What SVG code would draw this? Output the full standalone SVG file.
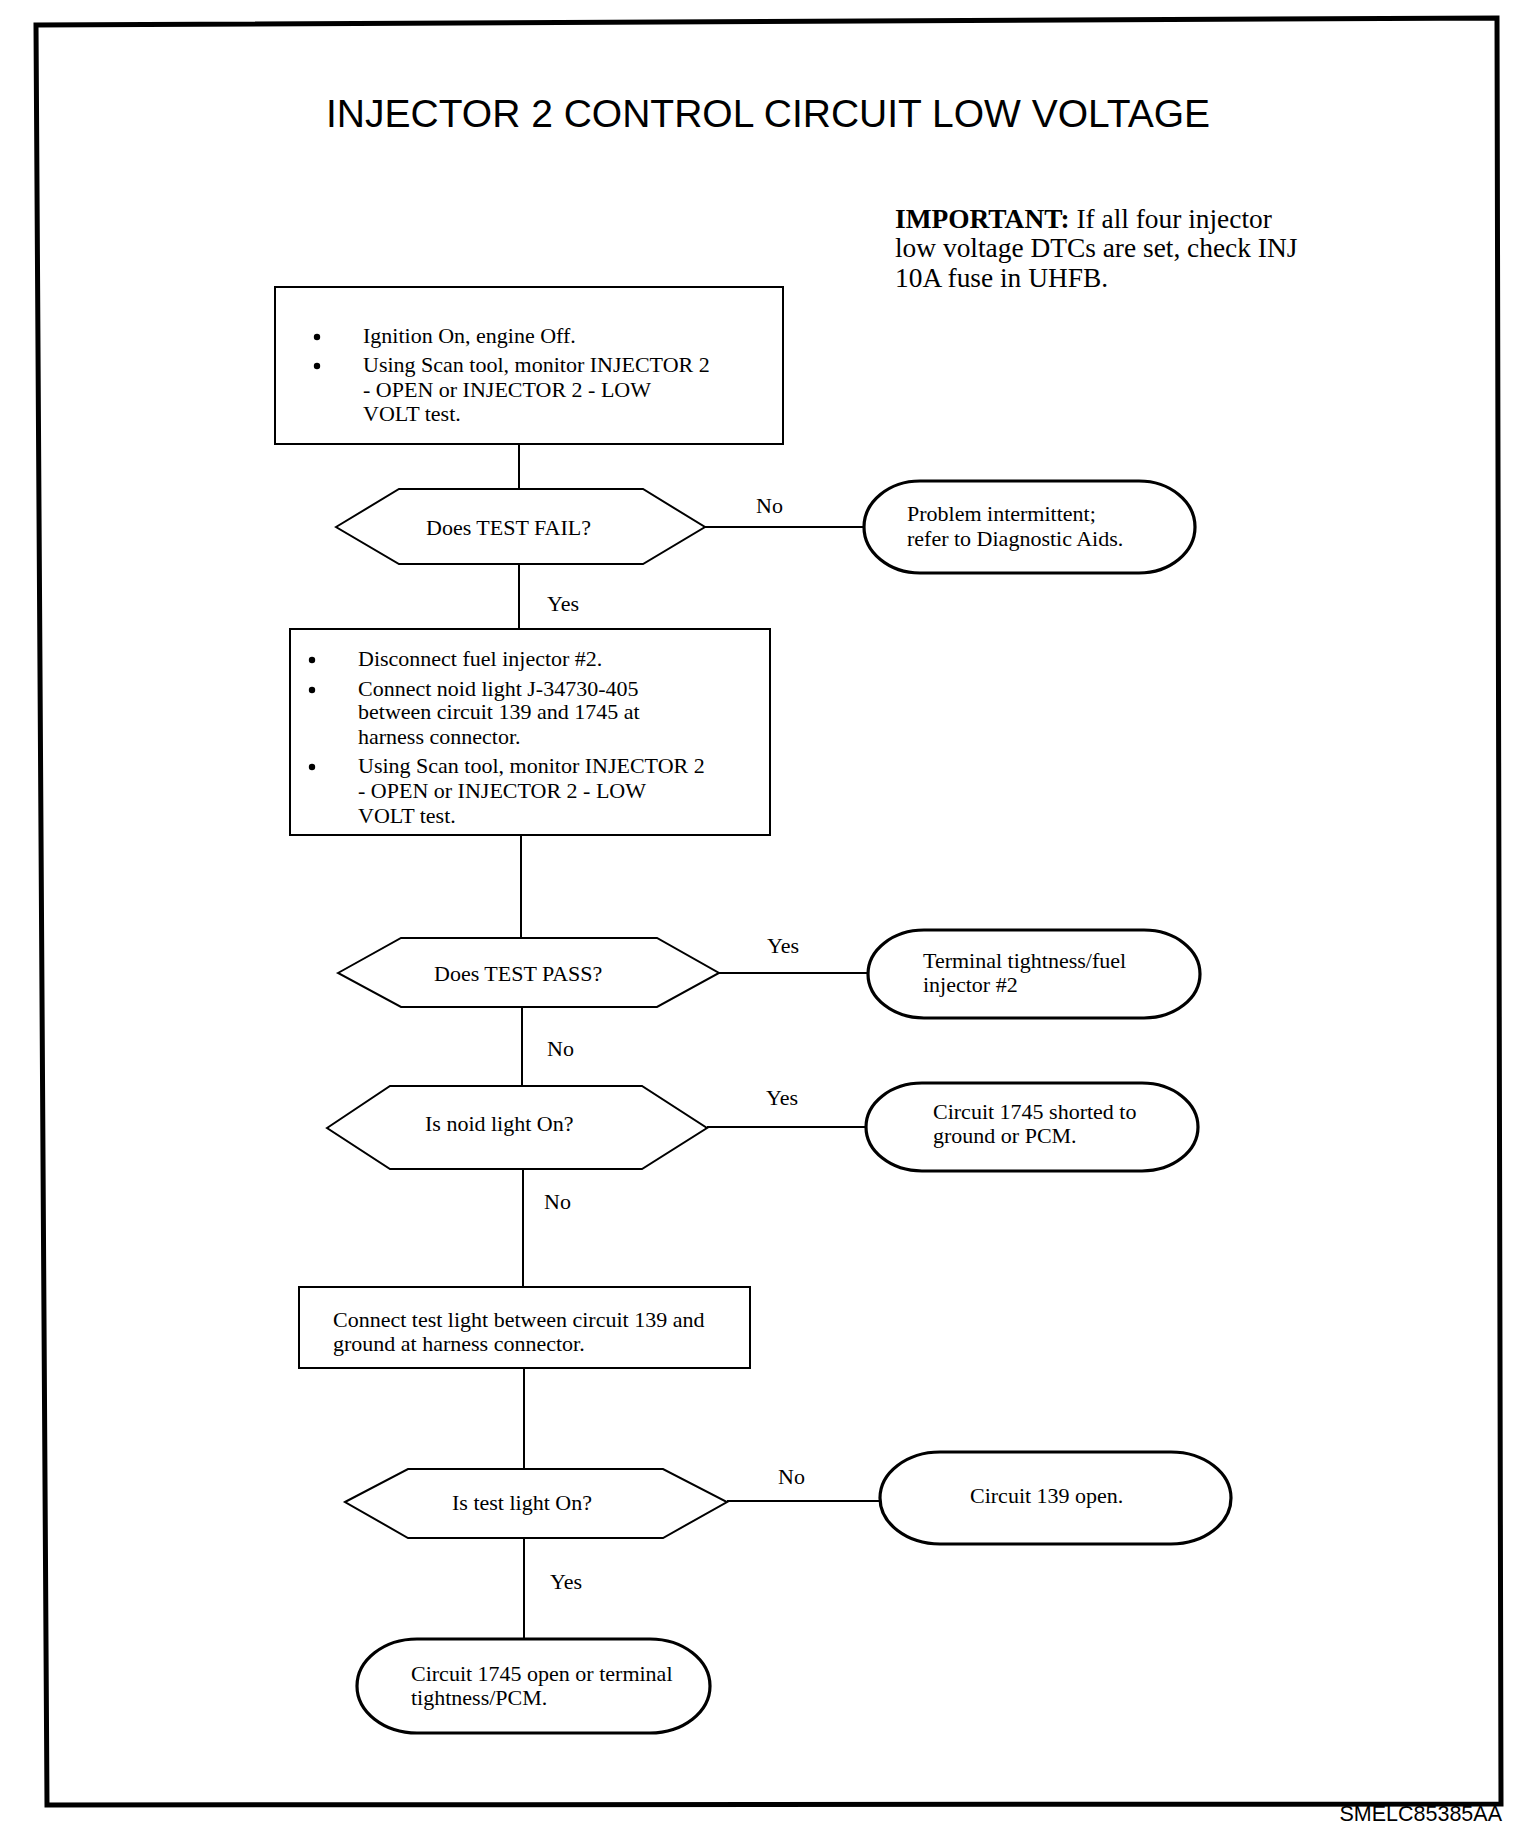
<svg xmlns="http://www.w3.org/2000/svg" width="1536" height="1840" viewBox="0 0 1536 1840">
<style>
.t{font-family:"Liberation Serif","Times New Roman",serif;font-size:22px;fill:#000}
.imp{font-family:"Liberation Serif","Times New Roman",serif;font-size:27.4px;fill:#000}
.box{fill:#fff;stroke:#000;stroke-width:2}
.dec{fill:#fff;stroke:#000;stroke-width:2}
.term{fill:#fff;stroke:#000;stroke-width:3.2}
.c{fill:none;stroke:#000;stroke-width:2}
</style>
<rect width="1536" height="1840" fill="#fff"/>
<polygon points="36,25 1497,18 1501,1804 47,1805" fill="none" stroke="#000" stroke-width="5"/>
<text x="326" y="127" font-family="Liberation Sans, Arial, sans-serif" font-size="39">INJECTOR 2 CONTROL CIRCUIT LOW VOLTAGE</text>
<text x="1502" y="1821" text-anchor="end" font-family="Liberation Sans, Arial, sans-serif" font-size="21.5">SMELC85385AA</text>
<g id="important">
<text class="imp" x="895" y="228"><tspan font-weight="bold">IMPORTANT:</tspan>  If all four injector</text>
<text class="imp" x="895" y="257">low voltage DTCs are set, check INJ</text>
<text class="imp" x="895" y="287">10A fuse in UHFB.</text>
</g>
<g id="connectors">
<line class="c" x1="519" y1="444" x2="519" y2="489"/>
<line class="c" x1="519" y1="564" x2="519" y2="629"/>
<line class="c" x1="705" y1="527" x2="864" y2="527"/>
<line class="c" x1="521" y1="835" x2="521" y2="938"/>
<line class="c" x1="719" y1="973" x2="868" y2="973"/>
<line class="c" x1="522" y1="1007" x2="522" y2="1086"/>
<line class="c" x1="707" y1="1127" x2="866" y2="1127"/>
<line class="c" x1="523" y1="1169" x2="523" y2="1287"/>
<line class="c" x1="524" y1="1368" x2="524" y2="1469"/>
<line class="c" x1="727" y1="1501" x2="880" y2="1501"/>
<line class="c" x1="524" y1="1538" x2="524" y2="1639"/>
<text class="t" x="756" y="513">No</text>
<text class="t" x="547" y="611">Yes</text>
<text class="t" x="767" y="953">Yes</text>
<text class="t" x="547" y="1056">No</text>
<text class="t" x="766" y="1105">Yes</text>
<text class="t" x="544" y="1209">No</text>
<text class="t" x="778" y="1484">No</text>
<text class="t" x="550" y="1589">Yes</text>
</g>
<g id="box1">
<rect class="box" x="275" y="287" width="508" height="157"/>
<circle cx="317" cy="337" r="3.2"/>
<circle cx="317" cy="366" r="3.2"/>
<text class="t" x="363" y="343">Ignition On, engine Off.</text>
<text class="t" x="363" y="372">Using Scan tool, monitor INJECTOR 2</text>
<text class="t" x="363" y="397">- OPEN or INJECTOR 2 - LOW</text>
<text class="t" x="363" y="421">VOLT test.</text>
</g>
<g id="dec1">
<polygon class="dec" points="336,527 399,489 643,489 705,527 643,564 399,564"/>
<text class="t" x="426" y="535">Does TEST FAIL?</text>
</g>
<g id="term1">
<rect class="term" x="864" y="481" width="331" height="92" rx="56" ry="46"/>
<text class="t" x="907" y="521">Problem intermittent;</text>
<text class="t" x="907" y="546">refer to Diagnostic Aids.</text>
</g>
<g id="box2">
<rect class="box" x="290" y="629" width="480" height="206"/>
<circle cx="312" cy="660" r="3.2"/>
<circle cx="312" cy="690" r="3.2"/>
<circle cx="312" cy="767" r="3.2"/>
<text class="t" x="358" y="666">Disconnect fuel injector #2.</text>
<text class="t" x="358" y="696">Connect noid light J-34730-405</text>
<text class="t" x="358" y="719">between circuit 139 and 1745 at</text>
<text class="t" x="358" y="744">harness connector.</text>
<text class="t" x="358" y="773">Using Scan tool, monitor INJECTOR 2</text>
<text class="t" x="358" y="798">- OPEN or INJECTOR 2 - LOW</text>
<text class="t" x="358" y="823">VOLT test.</text>
</g>
<g id="dec2">
<polygon class="dec" points="338,973 401,938 657,938 719,973 657,1007 401,1007"/>
<text class="t" x="434" y="981">Does TEST PASS?</text>
</g>
<g id="term2">
<rect class="term" x="868" y="930" width="332" height="88" rx="56" ry="44"/>
<text class="t" x="923" y="968">Terminal tightness/fuel</text>
<text class="t" x="923" y="992">injector #2</text>
</g>
<g id="dec3">
<polygon class="dec" points="327,1128 390,1086 642,1086 707,1128 642,1169 390,1169"/>
<text class="t" x="425" y="1131">Is noid light On?</text>
</g>
<g id="term3">
<rect class="term" x="866" y="1083" width="332" height="88" rx="56" ry="44"/>
<text class="t" x="933" y="1119">Circuit 1745 shorted to</text>
<text class="t" x="933" y="1143">ground or PCM.</text>
</g>
<g id="box3">
<rect class="box" x="299" y="1287" width="451" height="81"/>
<text class="t" x="333" y="1327">Connect test light between circuit 139 and</text>
<text class="t" x="333" y="1351">ground at harness connector.</text>
</g>
<g id="dec4">
<polygon class="dec" points="345,1502 408,1469 663,1469 727,1502 663,1538 408,1538"/>
<text class="t" x="452" y="1510">Is test light On?</text>
</g>
<g id="term4">
<rect class="term" x="880" y="1452" width="351" height="92" rx="60" ry="46"/>
<text class="t" x="970" y="1503">Circuit 139 open.</text>
</g>
<g id="term5">
<rect class="term" x="357" y="1639" width="353" height="94" rx="60" ry="47"/>
<text class="t" x="411" y="1681">Circuit 1745 open or terminal</text>
<text class="t" x="411" y="1705">tightness/PCM.</text>
</g>
</svg>
